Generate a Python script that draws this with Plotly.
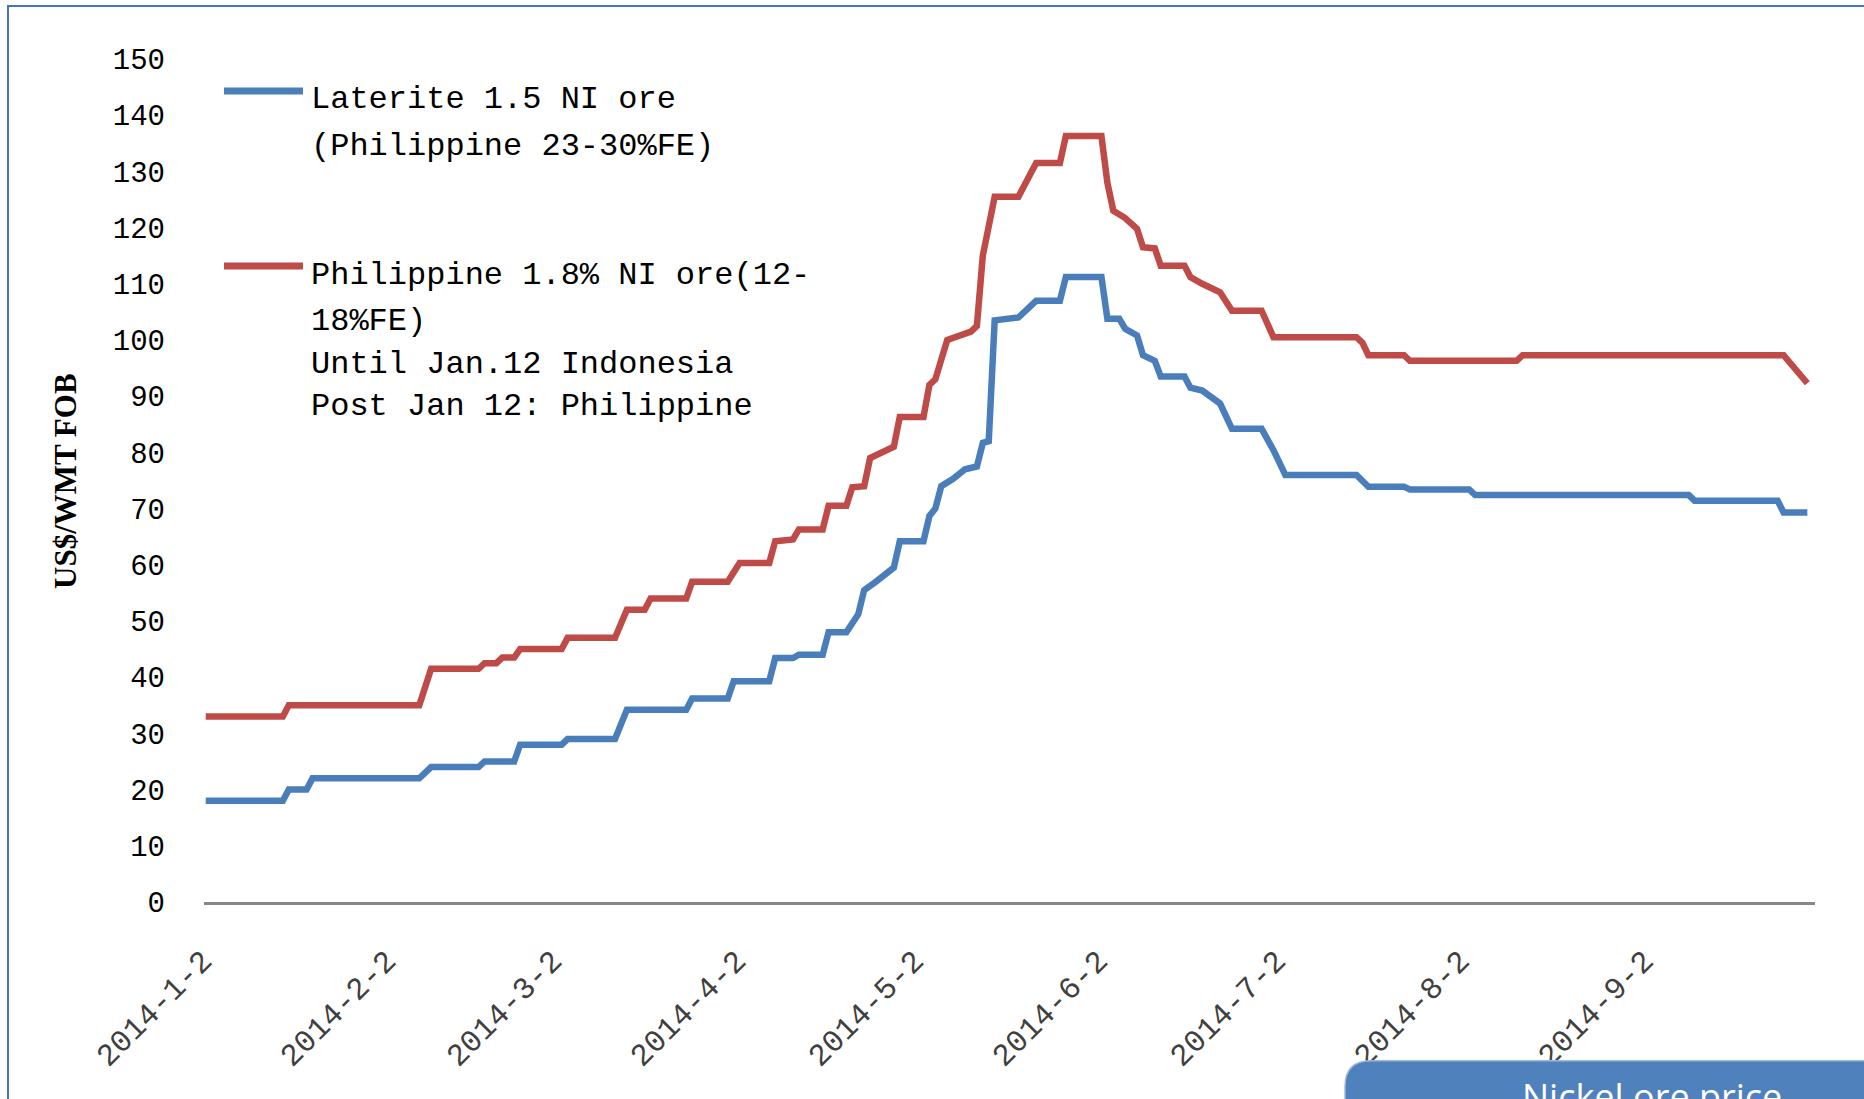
import plotly.graph_objects as go

# ---------------- data ----------------
laterite_dates = [
    "2014-01-02", "2014-01-15", "2014-01-16", "2014-01-19", "2014-01-20", "2014-02-07",
    "2014-02-09", "2014-02-17", "2014-02-18", "2014-02-23", "2014-02-24", "2014-03-03",
    "2014-03-04", "2014-03-12", "2014-03-14", "2014-03-24", "2014-03-25", "2014-03-31",
    "2014-04-01", "2014-04-07", "2014-04-08", "2014-04-11", "2014-04-12", "2014-04-16",
    "2014-04-17", "2014-04-20", "2014-04-22", "2014-04-23", "2014-04-25", "2014-04-28",
    "2014-04-29", "2014-05-03", "2014-05-04", "2014-05-05", "2014-05-06", "2014-05-08",
    "2014-05-10", "2014-05-12", "2014-05-13", "2014-05-14", "2014-05-15", "2014-05-19",
    "2014-05-21", "2014-05-22", "2014-05-26", "2014-05-27", "2014-06-02", "2014-06-03",
    "2014-06-05", "2014-06-06", "2014-06-08", "2014-06-09", "2014-06-11", "2014-06-12",
    "2014-06-16", "2014-06-17", "2014-06-19", "2014-06-22", "2014-06-24", "2014-06-29",
    "2014-07-01", "2014-07-03", "2014-07-15", "2014-07-16", "2014-07-17", "2014-07-23",
    "2014-07-24", "2014-08-03", "2014-08-04", "2014-09-09", "2014-09-10", "2014-09-24",
    "2014-09-25", "2014-09-29",
]
laterite_values = [
    18, 18, 20, 20, 22, 22,
    24, 24, 25, 25, 28, 28,
    29, 29, 34.2, 34.2, 36.2, 36.2,
    39.3, 39.3, 43.4, 43.4, 44, 44,
    48, 48, 51.2, 55.5, 57, 59.5,
    64.2, 64.2, 68.7, 70, 74, 75.3,
    77, 77.5, 81.7, 82, 103.5, 104,
    106, 107, 107, 111.2, 111.2, 103.8,
    103.8, 102, 100.8, 97.3, 96.3, 93.5,
    93.5, 91.5, 91, 88.7, 84.2, 84.2,
    80.4, 76, 76, 75.1, 73.9, 73.9,
    73.4, 73.4, 72.4, 72.4, 71.4, 71.4,
    69.3, 69.3,
]

philippine_dates = [
    "2014-01-02", "2014-01-15", "2014-01-16", "2014-02-07", "2014-02-09", "2014-02-17",
    "2014-02-18", "2014-02-20", "2014-02-21", "2014-02-23", "2014-02-24", "2014-03-03",
    "2014-03-04", "2014-03-12", "2014-03-14", "2014-03-17", "2014-03-18", "2014-03-24",
    "2014-03-25", "2014-03-31", "2014-04-02", "2014-04-07", "2014-04-08", "2014-04-11",
    "2014-04-12", "2014-04-16", "2014-04-17", "2014-04-20", "2014-04-21", "2014-04-23",
    "2014-04-24", "2014-04-26", "2014-04-28", "2014-04-29", "2014-05-03", "2014-05-04",
    "2014-05-05", "2014-05-06", "2014-05-07", "2014-05-11", "2014-05-12", "2014-05-13",
    "2014-05-14", "2014-05-15", "2014-05-19", "2014-05-21", "2014-05-22", "2014-05-26",
    "2014-05-27", "2014-06-02", "2014-06-03", "2014-06-04", "2014-06-06", "2014-06-08",
    "2014-06-09", "2014-06-11", "2014-06-12", "2014-06-16", "2014-06-17", "2014-06-19",
    "2014-06-22", "2014-06-24", "2014-06-29", "2014-07-01", "2014-07-15", "2014-07-16",
    "2014-07-17", "2014-07-23", "2014-07-24", "2014-08-11", "2014-08-12", "2014-09-25",
    "2014-09-29",
]
philippine_values = [
    33, 33, 35, 35, 41.5, 41.5,
    42.5, 42.5, 43.5, 43.5, 45, 45,
    47, 47, 52, 52, 54, 54,
    57, 57, 60.3, 60.3, 64.2, 64.5,
    66.3, 66.3, 70.5, 70.5, 73.8, 74,
    79, 80, 81, 86.3, 86.3, 92,
    93, 96.5, 100, 101.5, 102.5, 115,
    120, 125.5, 125.5, 129.5, 131.5, 131.5,
    136.3, 136.3, 128, 123, 121.7, 119.8,
    116.5, 116.3, 113.2, 113.2, 111.2, 110,
    108.5, 105.2, 105.2, 100.5, 100.5, 99.5,
    97.3, 97.3, 96.3, 96.3, 97.3, 97.3,
    92.3,
]

tick_dates = ["2014-01-02", "2014-02-02", "2014-03-02", "2014-04-02", "2014-05-02",
              "2014-06-02", "2014-07-02", "2014-08-02", "2014-09-02"]
tick_labels = ["2014-1-2", "2014-2-2", "2014-3-2", "2014-4-2", "2014-5-2",
               "2014-6-2", "2014-7-2", "2014-8-2", "2014-9-2"]
y_ticks = list(range(0, 151, 10))

legend_laterite = ["Laterite 1.5 NI ore", "(Philippine 23-30%FE)"]
legend_philippine = ["Philippine 1.8% NI ore(12-", "18%FE)",
                     "Until Jan.12 Indonesia", "Post Jan 12: Philippine"]
y_title = "US$/WMT FOB"
box_text = "Nickel ore price"

BLUE = "#4A7EBB"
RED = "#BE4B48"

# ---------------- geometry (pixels) ----------------
W, H = 1864, 1099
PL, PR, PT, PB = 204, 1815, 59, 902


def px(x):
    return (x - PL) / (PR - PL)


def py(y):
    return (PB - y) / (PB - PT)


fig = go.Figure()
fig.add_trace(go.Scatter(x=laterite_dates, y=laterite_values, mode="lines",
                         line=dict(color=BLUE, width=6.5), name=legend_laterite[0],
                         showlegend=False))
fig.add_trace(go.Scatter(x=philippine_dates, y=philippine_values, mode="lines",
                         line=dict(color=RED, width=6.5), name=legend_philippine[0],
                         showlegend=False))

shapes = []
annotations = []

# outer blue frame
shapes.append(dict(type="rect", xref="paper", yref="paper",
                   x0=px(8), x1=px(1880), y0=py(6), y1=py(1120),
                   line=dict(color="#4472C4", width=2), fillcolor="rgba(0,0,0,0)",
                   layer="above"))

# legend samples
for yy, col in ((91, BLUE), (266, RED)):
    shapes.append(dict(type="line", xref="paper", yref="paper",
                       x0=px(224), x1=px(303), y0=py(yy), y1=py(yy),
                       line=dict(color=col, width=7), layer="above"))

legend_font = dict(family="Liberation Mono, DejaVu Sans Mono, monospace", size=32, color="#000000")
for txt, yy in zip(legend_laterite, (100, 146.5)):
    annotations.append(dict(text=txt, xref="paper", yref="paper", x=px(309), y=py(yy),
                            xanchor="left", yanchor="middle", showarrow=False, font=legend_font))
for txt, yy in zip(legend_philippine, (275.5, 321.5, 364.5, 406.5)):
    annotations.append(dict(text=txt, xref="paper", yref="paper", x=px(309), y=py(yy),
                            xanchor="left", yanchor="middle", showarrow=False, font=legend_font))

# y-axis title
annotations.append(dict(text="<b>" + y_title + "</b>", xref="paper", yref="paper",
                        x=px(66), y=py(481), xanchor="center", yanchor="middle",
                        textangle=-90, showarrow=False,
                        font=dict(family="Liberation Serif, serif", size=31, color="#000000")))

# bottom-right rounded box
bx0, by0, r = 1345, 1060.7, 26
xa, xb = px(bx0), px(bx0 + r)
ya, yb = py(by0), py(by0 + r)
path = (f"M {px(bx0)},{py(1130)} L {xa},{yb} Q {xa},{ya} {xb},{ya} "
        f"L {px(1890)},{ya} L {px(1890)},{py(1130)} Z")
shapes.append(dict(type="path", xref="paper", yref="paper", path=path,
                   fillcolor="#4F81BD", line=dict(color="#9CB6DE", width=1.5), layer="above"))
annotations.append(dict(text=box_text, xref="paper", yref="paper", x=px(1651.5), y=py(1096),
                        xanchor="center", yanchor="middle", showarrow=False,
                        font=dict(family="Open Sans, Noto Sans, sans-serif", size=36,
                                  color="#FFFFFF")))

fig.update_layout(
    width=W, height=H,
    margin=dict(l=PL, r=W - PR, t=PT, b=H - PB, pad=0),
    paper_bgcolor="#FFFFFF", plot_bgcolor="#FFFFFF",
    showlegend=False,
    shapes=shapes, annotations=annotations,
    xaxis=dict(type="date", range=["2014-01-01 17:00", "2014-09-30 07:00"],
               tickmode="array", tickvals=tick_dates, ticktext=tick_labels,
               tickangle=-45, ticks="", showgrid=False, zeroline=False,
               showline=True, linecolor="#878787", linewidth=3,
               ticklabelstandoff=25, ticklabelshift=-3,
               tickfont=dict(family="Liberation Mono, DejaVu Sans Mono, monospace",
                             size=31, color="#404040")),
    yaxis=dict(range=[0, 150], tickmode="array", tickvals=y_ticks,
               ticks="", showgrid=False, zeroline=False, showline=False,
               ticklabelstandoff=38,
               tickfont=dict(family="Liberation Mono, DejaVu Sans Mono, monospace",
                             size=29, color="#000000")),
)

fig.write_html("out.html")
